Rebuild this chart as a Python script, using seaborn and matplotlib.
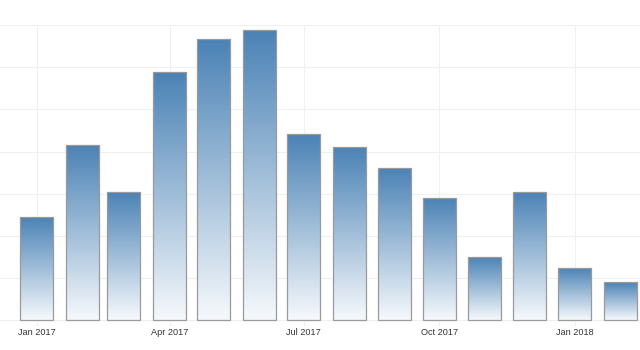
import matplotlib
matplotlib.use("Agg")
import matplotlib.pyplot as plt
import matplotlib.dates as mdates
from matplotlib.colors import LinearSegmentedColormap
import numpy as np
import pandas as pd
import seaborn as sns
import datetime as dt

# ---- data ----
months = ["2017-01-01", "2017-02-01", "2017-03-01", "2017-04-01", "2017-05-01",
          "2017-06-01", "2017-07-01", "2017-08-01", "2017-09-01", "2017-10-01",
          "2017-11-01", "2017-12-01", "2018-01-01", "2018-02-01"]
values = [2.45, 4.16, 3.05, 5.89, 6.67, 6.88, 4.42, 4.11, 3.61, 2.91, 1.50, 3.05, 1.24, 0.90]
tick_dates = ["2017-01-01", "2017-04-01", "2017-07-01", "2017-10-01", "2018-01-01"]
tick_labels = ["Jan 2017", "Apr 2017", "Jul 2017", "Oct 2017", "Jan 2018"]

sns.set_theme(style="white")
plt.rcParams['font.family'] = ['Liberation Sans', 'DejaVu Sans']

df = pd.DataFrame({"x": mdates.date2num(pd.to_datetime(months).to_pydatetime()), "y": values})

fig = plt.figure(figsize=(6.4, 3.5), dpi=100)
ax = fig.add_axes([0, 24.5 / 350, 1, 300.5 / 350])

sns.barplot(data=df, x="x", y="y", native_scale=True, color="#4a82b5",
            edgecolor="#9a9a9a", linewidth=0.9, ax=ax, zorder=3)

cmap = LinearSegmentedColormap.from_list("g", ["#f6f9fc", "#4a82b5"])
grad = np.linspace(0, 1, 256).reshape(-1, 1)
for p in list(ax.patches):
    x0, y0 = p.get_x(), p.get_y()
    w, h = p.get_width(), p.get_height()
    p.set_facecolor("none")
    im = ax.imshow(grad, extent=(x0, x0 + w, y0, y0 + h), origin="lower",
                   cmap=cmap, aspect="auto", zorder=2, interpolation="bicubic")
    im.set_clip_path(p)

d0 = mdates.date2num(dt.datetime(2017, 1, 1))
ax.set_xlim(d0 - 25.1, d0 + 409.3)
ax.set_ylim(-0.119, 7)
ax.set_yticks(range(0, 8))
ax.set_yticklabels([])
ax.set_xticks(mdates.date2num(pd.to_datetime(tick_dates).to_pydatetime()))
ax.set_xticklabels(tick_labels, fontsize=6.6, color="#333333")
ax.tick_params(axis="both", length=0)
ax.tick_params(axis="x", pad=2)
ax.set_xlabel("")
ax.set_ylabel("")
ax.grid(True, color="#f0f0f0", linewidth=0.8, zorder=0)
ax.set_axisbelow(True)
for s in ax.spines.values():
    s.set_visible(False)

fig.savefig("out.png", dpi=100)
